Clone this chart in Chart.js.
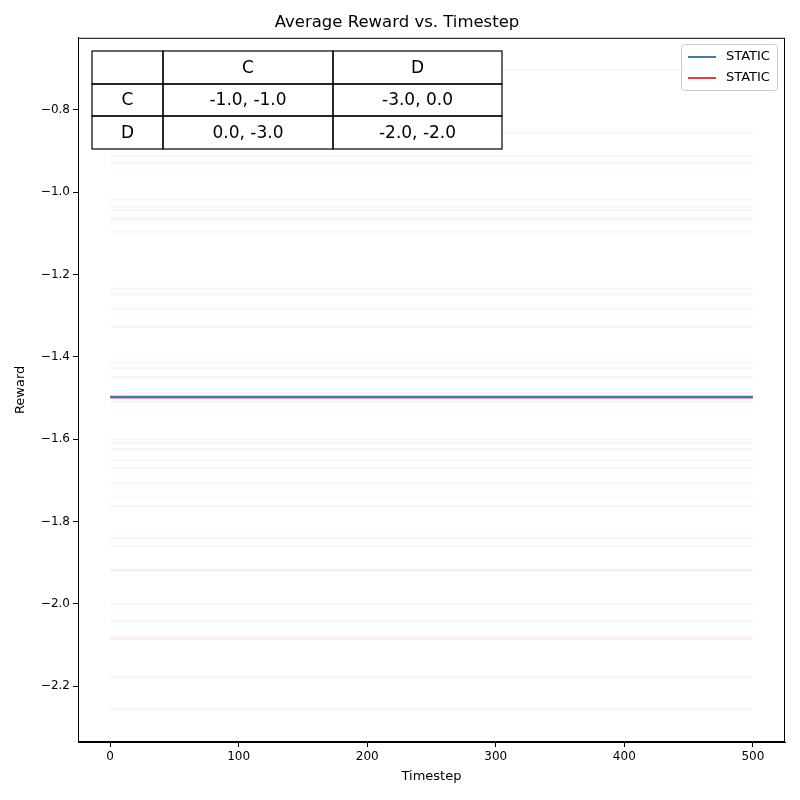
<!DOCTYPE html>
<html><head><meta charset="utf-8">
<script src="https://cdn.jsdelivr.net/npm/chart.js@4"></script>
<style>body{margin:0;background:#fff}#w{width:800px;height:800px}</style>
</head><body><div id="w"><canvas id="c" width="800" height="800"></canvas></div>
<script>
const xStart = 0, xEnd = 500;
const mainBlue = -1.497;
const mainRed = -1.499;
const faintBlue = [-0.703,-0.856,-0.912,-1.062,-1.096,-1.327,-1.428,-1.601,-1.610,-1.625,-1.652,-1.742,-1.763,-1.860,-1.919,-2.001,-2.178,-2.256];
const faintRed = [-0.929,-1.018,-1.035,-1.043,-1.067,-1.234,-1.249,-1.283,-1.414,-1.450,-1.509,-1.671,-1.708,-1.841,-1.919,-2.042,-2.082,-2.086];
const tableHeader = ["", "C", "D"];
const tableRows = [["C","-1.0, -1.0","-3.0, 0.0"],["D","0.0, -3.0","-2.0, -2.0"]];
const legendLabels = ["STATIC","STATIC"];
const BLUE = "#3b7bb5", RED = "#d9434c";

const seg = v => [{x:xStart,y:v},{x:xEnd,y:v}];
const ds = [];
faintBlue.forEach(v=>ds.push({data:seg(v),borderColor:"rgba(31,119,180,0.06)",borderWidth:2}));
faintRed.forEach(v=>ds.push({data:seg(v),borderColor:"rgba(214,39,40,0.06)",borderWidth:2}));
ds.push({data:seg(mainBlue),borderColor:BLUE,borderWidth:2});
ds.push({data:seg(mainRed),borderColor:RED,borderWidth:2});

const overlay = {id:"ov", afterDraw(ch){
  const c = ch.ctx; c.save();
  const a = ch.chartArea;
  c.strokeStyle="#000"; c.lineWidth=1; c.strokeRect(a.left+0.5,a.top+0.5,a.right-a.left-1,a.bottom-a.top-1);
  const xs=[92,163,333,502], ys=[51,84,116,149];
  c.fillStyle="#fff"; c.fillRect(92,51,410,98);
  c.strokeStyle="#000"; c.lineWidth=1.2;
  for(let r=0;r<3;r++)for(let k=0;k<3;k++) c.strokeRect(xs[k],ys[r],xs[k+1]-xs[k],ys[r+1]-ys[r]);
  c.fillStyle="#000"; c.font="17px 'DejaVu Sans'"; c.textAlign="center"; c.textBaseline="middle";
  const rows=[tableHeader,...tableRows];
  rows.forEach((row,r)=>row.forEach((t,k)=>c.fillText(t,(xs[k]+xs[k+1])/2,(ys[r]+ys[r+1])/2+1)));
  c.fillStyle="rgba(255,255,255,0.8)"; c.strokeStyle="#ccc"; c.lineWidth=1;
  c.beginPath(); c.roundRect(681.5,44.5,96,46,3); c.fill(); c.stroke();
  c.font="13px 'DejaVu Sans'"; c.textAlign="left";
  [BLUE,RED].forEach((col,i)=>{const y=57+i*21; c.strokeStyle=col; c.lineWidth=2; c.beginPath(); c.moveTo(688,y); c.lineTo(716,y); c.stroke(); c.fillStyle="#000"; c.fillText(legendLabels[i],726,y);});
  c.restore();
}};

new Chart(document.getElementById("c"),{type:"line",data:{datasets:ds},
 options:{responsive:false,animation:false,devicePixelRatio:1,
  layout:{padding:{top:0,right:15,left:9,bottom:12}},
  elements:{point:{radius:0},line:{tension:0}},
  plugins:{legend:{display:false},tooltip:{enabled:false},
   title:{display:true,text:"Average Reward vs. Timestep",color:"#000",font:{family:"DejaVu Sans",size:16.5,weight:"normal"},padding:{top:13,bottom:5}}},
  scales:{
   x:{type:"linear",min:-25,max:525,afterFit(s){s.height=46;},
     ticks:{color:"#000",font:{family:"DejaVu Sans",size:12},maxRotation:0},
     afterBuildTicks(s){s.ticks=[0,100,200,300,400,500].map(v=>({value:v}));},
     grid:{drawOnChartArea:false,color:"#000",tickLength:5},border:{color:"#000"},
     title:{display:true,text:"Timestep",color:"#000",font:{family:"DejaVu Sans",size:13},padding:{top:0}}},
   y:{min:-2.336,max:-0.625,afterFit(s){s.width=69;},
     afterBuildTicks(s){s.ticks=[-2.2,-2.0,-1.8,-1.6,-1.4,-1.2,-1.0,-0.8].map(v=>({value:v}));},
     ticks:{color:"#000",font:{family:"DejaVu Sans",size:12},callback:v=>v.toFixed(1).replace("-","\u2212")},
     grid:{drawOnChartArea:false,color:"#000",tickLength:5},border:{color:"#000"},
     title:{display:true,text:"Reward",color:"#000",font:{family:"DejaVu Sans",size:13},padding:{bottom:2}}}
  }},plugins:[overlay]});
</script></body></html>
